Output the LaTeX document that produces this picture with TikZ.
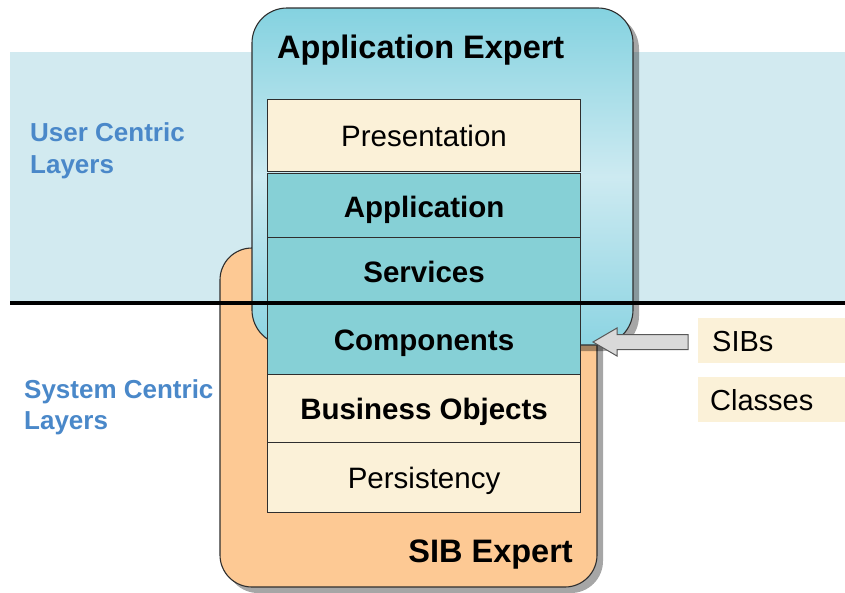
\documentclass[tikz,border=0pt]{standalone}
\usepackage{fontspec}
\setmainfont{Liberation Sans}
\usetikzlibrary{shadows}
\definecolor{band}{HTML}{D2EAF0}
\definecolor{orangebox}{HTML}{FDC994}
\definecolor{teal}{HTML}{86D0D6}
\definecolor{cream}{HTML}{FBF1D8}
\definecolor{bluetxt}{HTML}{4A88C9}
\definecolor{bluetop}{HTML}{84D2E0}
\definecolor{bluemid}{HTML}{CDEAF1}
\definecolor{bluebot}{HTML}{8CD4E2}
\definecolor{arrowfill}{HTML}{D9D9D9}
\definecolor{edge}{HTML}{2E2E2E}
\tikzset{
  layer/.style={draw=edge, line width=1.1pt, minimum width=313pt, inner sep=0pt, anchor=north west, text height=23pt, text depth=0.6pt, font=\fontsize{29.5}{35}\selectfont},
  creamlayer/.style={layer, fill=cream},
  teallayer/.style={layer, fill=teal, font=\fontsize{29.5}{35}\selectfont\bfseries},
  sidelabel/.style={text=bluetxt, font=\fontsize{26}{31.6}\selectfont\bfseries, align=left, anchor=base west, inner sep=0pt},
  tag/.style={fill=cream, minimum width=147pt, minimum height=45pt, anchor=north west, inner sep=0pt},
  tagtext/.style={anchor=base west, inner sep=0pt, font=\fontsize{29}{34}\selectfont},
  title/.style={inner sep=0pt, font=\fontsize{32.5}{38}\selectfont\bfseries},
  boxshadow/.style={drop shadow={shadow xshift=6pt, shadow yshift=-6pt, fill=black, opacity=0.35}}
}
\begin{document}
\begin{tikzpicture}[x=1pt,y=-1pt]
\useasboundingbox (0,0) rectangle (845,592);
% band
\fill[band] (10,52) rectangle (845,302);
% SIB expert box
\draw[draw=edge, line width=1.1pt, fill=orangebox, rounded corners=32pt, boxshadow] (220,248) rectangle (597,587);
% Application expert box
\draw[draw=edge, line width=1.1pt, rounded corners=35pt, boxshadow, top color=bluetop, bottom color=bluebot, middle color=bluemid] (252,8) rectangle (633,345);
% layers
\node[creamlayer, minimum height=71.5pt] (pres) at (267,99) {Presentation};
\node[teallayer, minimum height=64pt] (app) at (267,173.3) {Application};
\node[teallayer, minimum height=66.7pt] (serv) at (267,237.3) {Services};
\node[teallayer, minimum height=70pt] (comp) at (267,304) {Components};
\node[creamlayer, minimum height=67.7pt, font=\fontsize{29.5}{35}\selectfont\bfseries] (bo) at (267,374) {Business Objects};
\node[creamlayer, minimum height=70.3pt] (pers) at (267,441.7) {Persistency};
% divider
\draw[line width=4pt] (10,302.5) -- (845,302.5);
% titles
\node[title, anchor=base west] (appexp) at (277,58) {Application Expert};
\node[title, anchor=base east] (sibexp) at (573,562) {SIB Expert};
% side labels
\node[sidelabel] (user) at (30,173.3) {User Centric\\Layers};
\node[sidelabel] (sys) at (24,429.6) {System Centric\\Layers};
% tags
\node[tag] (sibs) at (698,318) {};
\node[tagtext] (sibst) at (712,351.7) {SIBs};
\node[tag] (classes) at (698,377) {};
\node[tagtext] (classest) at (710,410) {Classes};
% arrow
\coordinate (tip) at (593,342);
\draw[fill=arrowfill, draw=edge!80, line width=1pt, line join=miter] (tip) -- (617,328) -- (617,334.5) -- (688,334.5) -- (688,349.5) -- (617,349.5) -- (617,356) -- cycle;
\end{tikzpicture}
\end{document}
